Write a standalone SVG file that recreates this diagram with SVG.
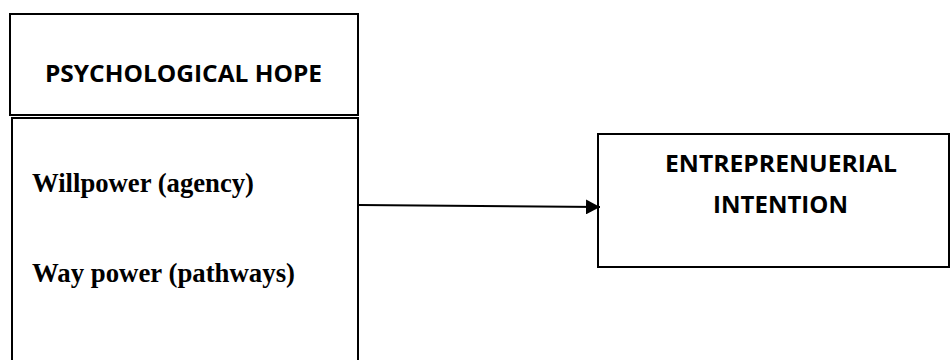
<svg xmlns="http://www.w3.org/2000/svg" width="951" height="360" viewBox="0 0 951 360">
<defs>
<style>
.box{fill:#fff;stroke:#000;stroke-width:2}
.hdr{font-family:"Open Sans","Noto Sans",sans-serif;font-weight:700;font-size:23px;fill:#000}
.itm{font-family:"Liberation Serif","Times New Roman",serif;font-weight:700;font-size:26.5px;fill:#000}
.con{stroke:#000;stroke-width:2;fill:none}
</style>
<marker id="ah" markerWidth="14" markerHeight="15" refX="14" refY="7.5" orient="auto" markerUnits="userSpaceOnUse">
<path d="M0,0 L14,7.5 L0,15 Z" fill="#000"/>
</marker>
</defs>
<rect width="951" height="360" fill="#fff"/>
<g id="psych-hope-title">
<rect class="box" x="10" y="14" width="348" height="101"/>
<text class="hdr" x="45" y="82" textLength="277" lengthAdjust="spacingAndGlyphs">PSYCHOLOGICAL HOPE</text>
</g>
<g id="psych-hope-body">
<rect class="box" x="12" y="118" width="346" height="250"/>
<text class="itm" x="32" y="192" textLength="222" lengthAdjust="spacingAndGlyphs">Willpower (agency)</text>
<text class="itm" x="32" y="282" textLength="263" lengthAdjust="spacingAndGlyphs">Way power (pathways)</text>
</g>
<g id="entrepreneurial-intention">
<rect class="box" x="598" y="134" width="351" height="133"/>
<text class="hdr" x="665" y="172" textLength="232" lengthAdjust="spacingAndGlyphs">ENTREPRENUERIAL</text>
<text class="hdr" x="713" y="213" textLength="135" lengthAdjust="spacingAndGlyphs">INTENTION</text>
</g>
<g id="connectors">
<line class="con" x1="359" y1="205" x2="600" y2="207" marker-end="url(#ah)"/>
</g>
</svg>
